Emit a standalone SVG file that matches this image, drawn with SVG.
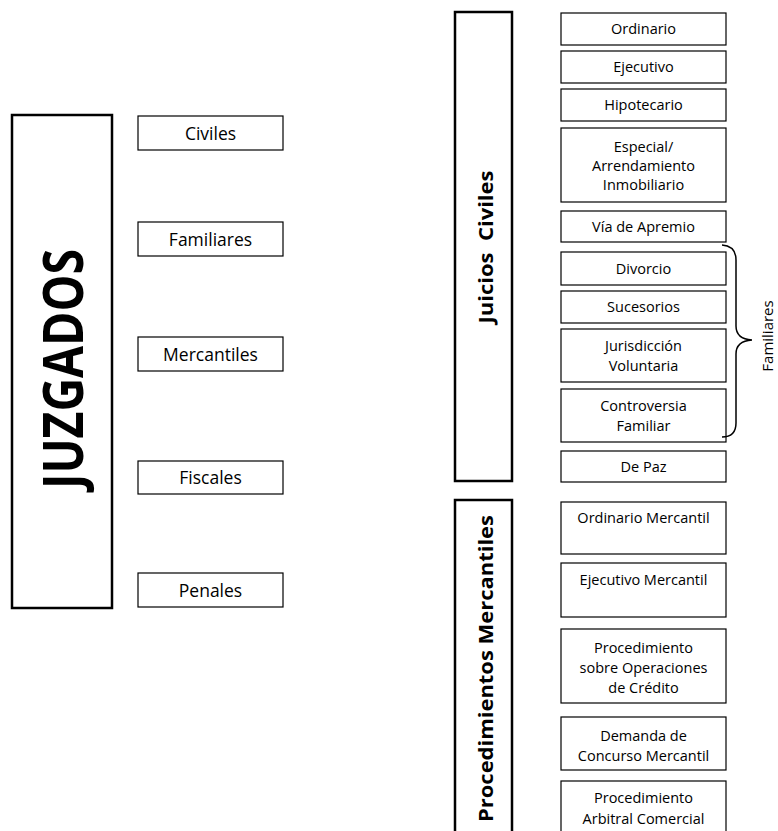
<svg xmlns="http://www.w3.org/2000/svg" width="778" height="831" viewBox="0 0 778 831">
<style>
  .big{fill:#fff;stroke:#000;stroke-width:2.5}
  .box{fill:#fff;stroke:#000;stroke-width:1.2}
  .t{font-family:"Open Sans","Liberation Sans",sans-serif;fill:#000;text-anchor:middle}
  .l{font-size:17.5px}
  .r{font-size:14.5px}
  .b{font-weight:bold}
  .brace{fill:none;stroke:#000;stroke-width:1.5}
</style>
<rect width="778" height="831" fill="#fff"/>
<g id="juzgados">
  <rect class="big" x="12" y="115" width="100" height="493"/>
  <text class="t b" font-size="55" transform="translate(83,369) rotate(-90)" textLength="240" lengthAdjust="spacingAndGlyphs">JUZGADOS</text>
</g>
<g id="civiles"><rect class="box" x="138" y="116" width="145" height="34"/><text class="t l" x="210.5" y="140">Civiles</text></g>
<g id="familiares"><rect class="box" x="138" y="222" width="145" height="34"/><text class="t l" x="210.5" y="246">Familiares</text></g>
<g id="mercantiles"><rect class="box" x="138" y="337" width="145" height="34"/><text class="t l" x="210.5" y="361">Mercantiles</text></g>
<g id="fiscales"><rect class="box" x="138" y="461" width="145" height="33"/><text class="t l" x="210.5" y="484">Fiscales</text></g>
<g id="penales"><rect class="box" x="138" y="573" width="145" height="34"/><text class="t l" x="210.5" y="597">Penales</text></g>

<g id="juicios-civiles">
  <rect class="big" x="455" y="12" width="57" height="469"/>
  <text class="t b" font-size="20" transform="translate(493,247) rotate(-90)" textLength="153" lengthAdjust="spacingAndGlyphs" xml:space="preserve">Juicios  Civiles</text>
</g>
<g id="procedimientos-mercantiles">
  <rect class="big" x="455" y="500" width="57" height="345"/>
  <text class="t b" font-size="20" transform="translate(493,668.5) rotate(-90)" textLength="307" lengthAdjust="spacingAndGlyphs">Procedimientos Mercantiles</text>
</g>

<g id="ordinario"><rect class="box" x="561" y="13" width="165" height="32"/><text class="t r" x="643.5" y="34">Ordinario</text></g>
<g id="ejecutivo"><rect class="box" x="561" y="51" width="165" height="32"/><text class="t r" x="643.5" y="72">Ejecutivo</text></g>
<g id="hipotecario"><rect class="box" x="561" y="89" width="165" height="32"/><text class="t r" x="643.5" y="110">Hipotecario</text></g>
<g id="especial"><rect class="box" x="561" y="128" width="165" height="74"/><text class="t r" x="643.5" y="152">Especial/<tspan x="643.5" y="171">Arrendamiento</tspan><tspan x="643.5" y="190">Inmobiliario</tspan></text></g>
<g id="via-de-apremio"><rect class="box" x="561" y="211" width="165" height="31"/><text class="t r" x="643.5" y="231.5">Vía de Apremio</text></g>
<g id="divorcio"><rect class="box" x="561" y="252" width="165" height="33"/><text class="t r" x="643.5" y="273.5">Divorcio</text></g>
<g id="sucesorios"><rect class="box" x="561" y="291" width="165" height="32"/><text class="t r" x="643.5" y="312">Sucesorios</text></g>
<g id="jurisdiccion"><rect class="box" x="561" y="329" width="165" height="53"/><text class="t r" x="643.5" y="351">Jurisdicción<tspan x="643.5" y="371">Voluntaria</tspan></text></g>
<g id="controversia"><rect class="box" x="561" y="389" width="165" height="53"/><text class="t r" x="643.5" y="411">Controversia<tspan x="643.5" y="431">Familiar</tspan></text></g>
<g id="de-paz"><rect class="box" x="561" y="451" width="165" height="31"/><text class="t r" x="643.5" y="471.5">De Paz</text></g>

<g id="ordinario-mercantil"><rect class="box" x="561" y="502" width="165" height="52"/><text class="t r" x="643.5" y="523">Ordinario Mercantil</text></g>
<g id="ejecutivo-mercantil"><rect class="box" x="561" y="563" width="165" height="54"/><text class="t r" x="643.5" y="585">Ejecutivo Mercantil</text></g>
<g id="operaciones-credito"><rect class="box" x="561" y="629" width="165" height="74"/><text class="t r" x="643.5" y="653">Procedimiento<tspan x="643.5" y="673">sobre Operaciones</tspan><tspan x="643.5" y="693">de Crédito</tspan></text></g>
<g id="concurso-mercantil"><rect class="box" x="561" y="717" width="165" height="53"/><text class="t r" x="643.5" y="741">Demanda de<tspan x="643.5" y="761">Concurso Mercantil</tspan></text></g>
<g id="arbitral-comercial"><rect class="box" x="561" y="781" width="165" height="60"/><text class="t r" x="643.5" y="803">Procedimiento<tspan x="643.5" y="824">Arbitral Comercial</tspan></text></g>

<g id="connectors">
  <path class="brace" d="M722,245 Q736,246 736,260 L736,326 Q736,339 752,340 Q736,341 736,354 L736,423 Q736,437 722,437"/>
</g>
<g id="familiares-label">
  <text class="t" font-size="15" transform="translate(773,336) rotate(-90)">Familiares</text>
</g>
</svg>
